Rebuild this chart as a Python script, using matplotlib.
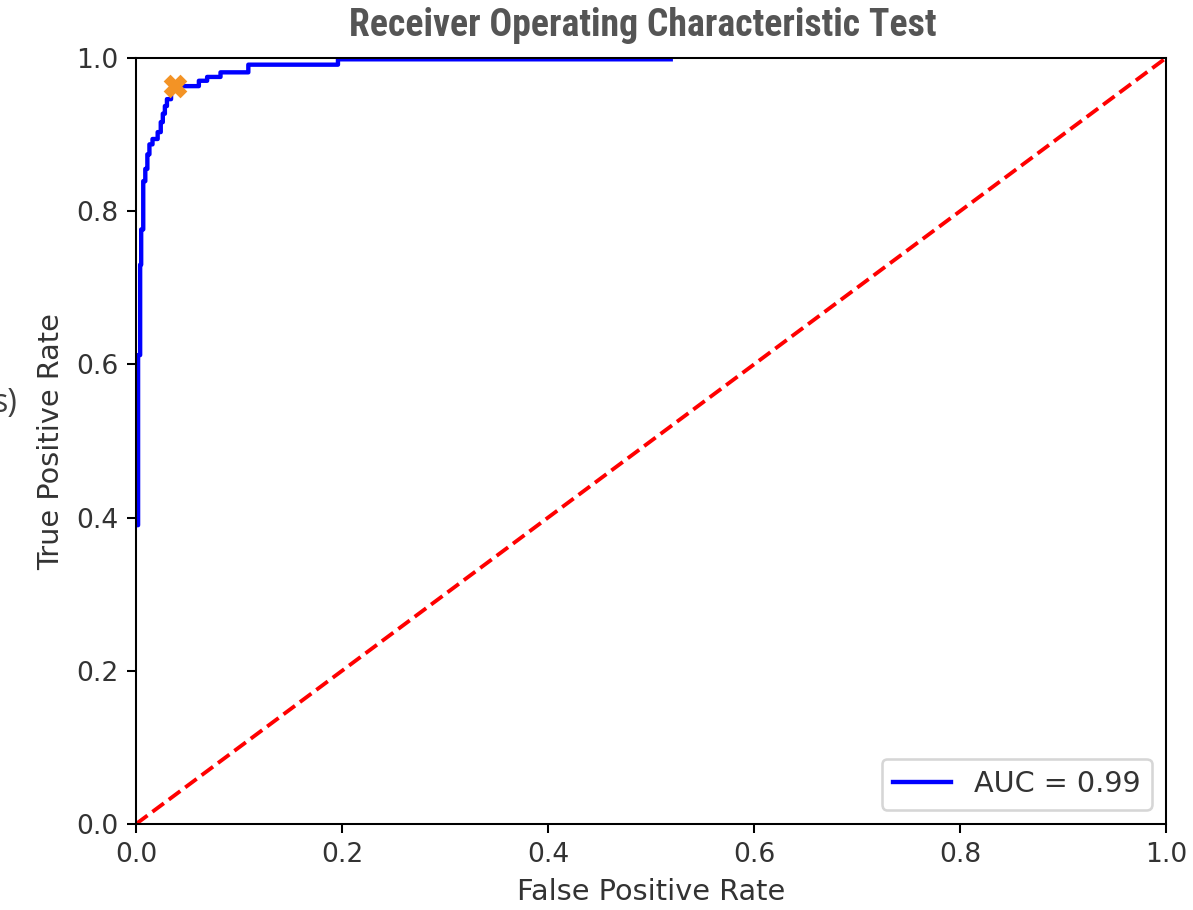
import matplotlib
matplotlib.use("Agg")
import matplotlib.pyplot as plt

# ROC curve (step points)
fpr = [0.0, 0.002, 0.002, 0.004, 0.004, 0.005, 0.005, 0.007, 0.007, 0.009, 0.009,
       0.011, 0.011, 0.013, 0.013, 0.016, 0.016, 0.021, 0.021, 0.024, 0.024, 0.026,
       0.026, 0.028, 0.028, 0.030, 0.030, 0.034, 0.034, 0.038, 0.061, 0.061, 0.069,
       0.069, 0.082, 0.082, 0.109, 0.109, 0.196, 0.196, 0.519]
tpr = [0.39, 0.39, 0.612, 0.612, 0.73, 0.73, 0.776, 0.776, 0.839, 0.839, 0.855,
       0.855, 0.874, 0.874, 0.887, 0.887, 0.894, 0.894, 0.903, 0.903, 0.916, 0.916,
       0.927, 0.927, 0.937, 0.937, 0.946, 0.946, 0.957, 0.963, 0.963, 0.970, 0.970,
       0.975, 0.975, 0.981, 0.981, 0.991, 0.991, 0.998, 0.998]
auc_value = 0.99
best_point = (0.038, 0.963)

plt.rcParams["text.color"] = "#333333"
plt.rcParams["xtick.labelcolor"] = "#333333"
plt.rcParams["ytick.labelcolor"] = "#333333"

fig = plt.figure(figsize=(6.45, 4.92), dpi=185)
ax = fig.add_axes([0.114, 0.0945, 0.8634, 0.8418])

ax.plot(fpr, tpr, color="blue", lw=1.7, label="AUC = %0.2f" % auc_value)
ax.plot([0, 1], [0, 1], color="red", ls="--", lw=1.5)
ax.plot([best_point[0]], [best_point[1]], marker="X", color="#f39325",
        markersize=8, ls="none")
ax.set_xlim(0, 1)
ax.set_ylim(0, 1)
ax.tick_params(labelsize=10.3)
ax.set_xlabel("False Positive Rate", fontsize=11.2, color="#333333")
ax.set_ylabel("True Positive Rate", fontsize=11.2, color="#333333")
ax.legend(loc="lower right", fontsize=11.2)

fig.text(0.539, 0.9725, "Receiver Operating Characteristic Test", ha="center",
         va="center", fontsize=14.7, fontweight="bold", color="#555555",
         fontstretch="condensed",
         family=["Roboto Condensed", "Liberation Sans Narrow", "DejaVu Sans"])
# partial text cut off at the left edge, as in the reference
fig.text(0.0143, 0.557, "s)", ha="right", va="center", fontsize=12.5,
         color="#404040", family=["Open Sans", "DejaVu Sans"])

fig.savefig("out.png", dpi=185)
